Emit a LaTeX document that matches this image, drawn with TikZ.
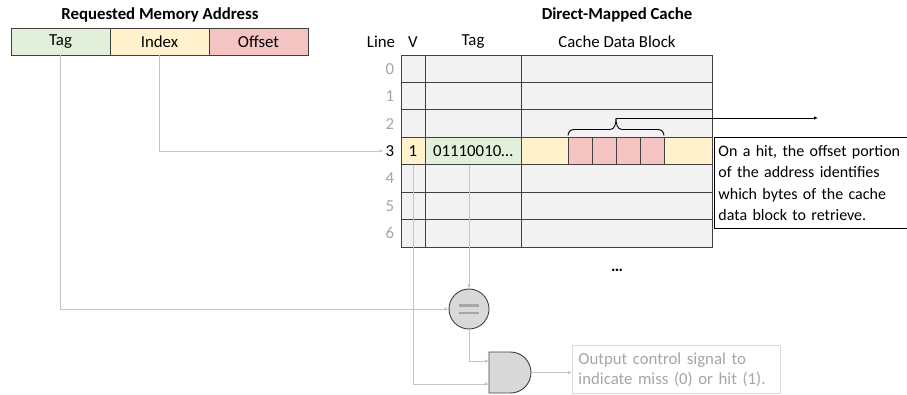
\documentclass[tikz,border=0pt]{standalone}
\usepackage{fontspec}
\setmainfont{Carlito}
\usepackage{xcolor}
\usepackage{tikz}
\usetikzlibrary{arrows.meta,positioning,calc}

\definecolor{tagfill}{HTML}{E2EFDA}
\definecolor{idxfill}{HTML}{FFF2CC}
\definecolor{offfill}{HTML}{F4C4C2}
\definecolor{cellgray}{HTML}{F2F2F2}
\definecolor{gridline}{HTML}{404040}
\definecolor{wirecol}{HTML}{C4C4C4}
\definecolor{numgray}{HTML}{A6A6A6}
\definecolor{gatefill}{HTML}{D9D9D9}

\begin{document}
\begin{tikzpicture}[x=1pt, y=1pt, >={Latex[length=4pt,width=3.5pt]},
  font=\fontsize{16.8}{19}\selectfont,
  field/.style={draw=gridline, line width=0.9pt, minimum width=99pt, minimum height=27pt, inner sep=0pt, outer sep=0pt},
  cell/.style={minimum height=27.4pt, inner sep=0pt, outer sep=0pt},
  byte/.style={cell, draw=gridline, line width=0.9pt, fill=offfill, minimum width=24pt},
  linenum/.style={text=numgray, inner sep=2pt},
  title/.style={font=\fontsize{16.8}{19}\selectfont\bfseries},
  wire/.style={draw=wirecol, line width=0.9pt, ->},
  eqgate/.style={circle, draw=gridline, line width=0.9pt, fill=gatefill, minimum size=40pt, inner sep=0pt}]
  \useasboundingbox (0,0) rectangle (907,-394);
  \clip (0,0) rectangle (907,-394);

  % address fields
  \node[title] (addrtitle) at (160,-15) {Requested Memory Address};
  \node[field, fill=tagfill] (atag) at (60.5,-41.5) {Tag};
  \node[field, fill=idxfill, right=0pt of atag] (aidx) {Index};
  \node[field, fill=offfill, right=0pt of aidx] (aoff) {Offset};

  % cache headers
  \node[title] (cachetitle) at (617,-15) {Direct-Mapped Cache};
  \node (hline) at (381,-42) {Line};
  \node (hv) at (413,-42) {V};
  \node (htag) at (473,-42) {Tag};
  \node (hdata) at (617,-42) {Cache Data Block};

  % cache table
  \fill[cellgray] (401,-55) rectangle (712,-247);
  \node[cell, fill=idxfill, minimum width=24pt] (v3) at (413,-151) {1};
  \node[cell, fill=tagfill, minimum width=96pt] (t3) at (473,-151) {01110010…};
  \node[cell, fill=idxfill, minimum width=191pt] (d3) at (616.5,-151) {};
  \draw[gridline, line width=0.9pt] (401,-82.4) -- (712,-82.4);
  \draw[gridline, line width=0.9pt] (401,-109.9) -- (712,-109.9);
  \draw[gridline, line width=0.9pt] (401,-137.3) -- (712,-137.3);
  \draw[gridline, line width=0.9pt] (401,-164.7) -- (712,-164.7);
  \draw[gridline, line width=0.9pt] (401,-192.1) -- (712,-192.1);
  \draw[gridline, line width=0.9pt] (401,-219.6) -- (712,-219.6);
  \draw[gridline, line width=0.9pt] (425,-55) -- (425,-247);
  \draw[gridline, line width=0.9pt] (521,-55) -- (521,-247);
  \draw[gridline, line width=0.9pt] (401,-55) rectangle (712,-247);
  \node[byte] (b1) at (580,-151) {};
  \node[byte, right=0pt of b1] (b2) {};
  \node[byte, right=0pt of b2] (b3) {};
  \node[byte, right=0pt of b3] (b4) {};

  % line numbers
  \node[linenum] (l0) at (390,-68.7) {0};
  \node[linenum] (l1) at (390,-96.1) {1};
  \node[linenum] (l2) at (390,-123.6) {2};
  \node[linenum, text=black] (l3) at (390,-151) {3};
  \node[linenum] (l4) at (390,-178.4) {4};
  \node[linenum] (l5) at (390,-205.9) {5};
  \node[linenum] (l6) at (390,-233.3) {6};
  \node[font=\fontsize{16.8}{19}\selectfont\bfseries] (more) at (617,-270) {…};

  % brace over the selected bytes
  \coordinate (bracetip) at (616,-118);
  \coordinate (hitend) at (818,-118);
  \draw[black, line width=0.9pt] (568,-135.5) to[out=90,in=180] (574,-129.5) -- (610,-129.5)
    to[out=0,in=-90] (bracetip) to[out=-90,in=180] (622,-129.5) -- (658,-129.5)
    to[out=0,in=90] (664,-135.5);
  \draw[->, black, line width=0.9pt] (bracetip) -- (hitend);
  \node[draw=black, line width=0.9pt, anchor=north west, align=left, text width=215pt,
    inner xsep=4pt, inner ysep=2pt, minimum height=91pt, font=\fontsize{16}{21.5}\selectfont]
    (hitmsg) at (714,-137) {On a hit, the offset portion\\of the address identifies\\which bytes of the cache\\data block to retrieve.};

  % comparator and and-gate
  \node[eqgate] (eq) at (469,-309) {};
  \draw[numgray, line width=2.6pt] ($(eq.center)+(-10,3.8)$) -- ($(eq.center)+(10,3.8)$);
  \draw[numgray, line width=2.6pt] ($(eq.center)+(-10,-3.8)$) -- ($(eq.center)+(10,-3.8)$);
  \draw[draw=gridline, line width=0.9pt, fill=gatefill] (489,-352) -- (510.5,-352)
    arc[start angle=90, end angle=-90, radius=20.5] -- (489,-393) -- cycle;
  \coordinate (andin1) at (489,-361);
  \coordinate (andin2) at (489,-384);
  \coordinate (andout) at (531,-372.5);
  \node[draw=gatefill, line width=0.9pt, anchor=north west, align=left, text width=196pt,
    inner xsep=6pt, minimum height=48pt, text=numgray, font=\fontsize{16.8}{20}\selectfont]
    (outmsg) at (572,-345) {Output control signal to\\indicate miss (0) or hit (1).};

  % wires
  \draw[wire] (atag.south) |- (eq.west);
  \draw[wire] (aidx.south) |- (l3.west);
  \draw[wire] (t3.south -| eq.north) -- (eq.north);
  \draw[wire] (v3.south) |- (andin2);
  \draw[wire] (eq.south) |- (andin1);
  \draw[wire] (andout) -- (andout -| outmsg.west);
\end{tikzpicture}
\end{document}
